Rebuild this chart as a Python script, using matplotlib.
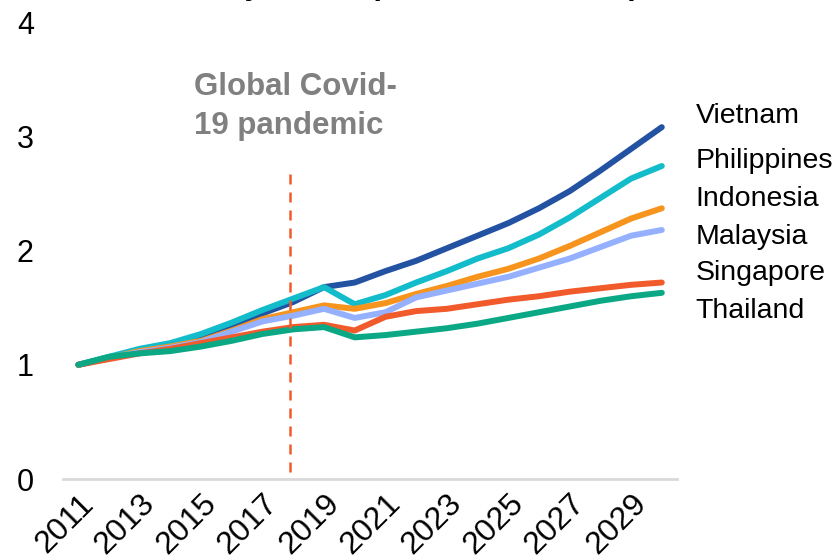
import matplotlib
matplotlib.use("Agg")
import matplotlib.pyplot as plt

plt.rcParams['font.family'] = ['Liberation Sans', 'DejaVu Sans']

years = list(range(2011, 2031))

vietnam = [1.00, 1.06, 1.12, 1.18, 1.25, 1.34, 1.45, 1.55, 1.68, 1.72,
           1.82, 1.91, 2.02, 2.13, 2.24, 2.37, 2.52, 2.70, 2.89, 3.08]
philippines = [1.00, 1.07, 1.14, 1.19, 1.27, 1.37, 1.48, 1.58, 1.68, 1.53,
               1.61, 1.72, 1.82, 1.93, 2.02, 2.14, 2.29, 2.46, 2.63, 2.74]
indonesia = [1.00, 1.06, 1.12, 1.16, 1.21, 1.30, 1.40, 1.46, 1.52, 1.49,
             1.54, 1.62, 1.69, 1.77, 1.84, 1.93, 2.04, 2.16, 2.28, 2.37]
malaysia = [1.00, 1.06, 1.11, 1.15, 1.20, 1.29, 1.38, 1.43, 1.49, 1.41,
            1.46, 1.59, 1.65, 1.71, 1.77, 1.85, 1.93, 2.03, 2.13, 2.18]
singapore = [1.00, 1.05, 1.10, 1.14, 1.19, 1.24, 1.29, 1.33, 1.35, 1.30,
             1.42, 1.47, 1.49, 1.53, 1.57, 1.60, 1.64, 1.67, 1.70, 1.72]
thailand = [1.00, 1.07, 1.10, 1.12, 1.16, 1.21, 1.27, 1.31, 1.33, 1.24,
            1.26, 1.29, 1.32, 1.36, 1.41, 1.46, 1.51, 1.56, 1.60, 1.63]

countries = ['Vietnam', 'Philippines', 'Indonesia', 'Malaysia', 'Singapore', 'Thailand']
series = [vietnam, philippines, indonesia, malaysia, singapore, thailand]
colors = ['#2352a2', '#12bccb', '#f7941d', '#95b0ff', '#f15a2b', '#0aa884']
label_y = [3.18, 2.78, 2.45, 2.12, 1.80, 1.47]

covid_year = 2018
tick_years = [str(y) for y in years[::2]]

fig = plt.figure(figsize=(8.39, 5.60), dpi=100)
ax = fig.add_axes([0.0751, 0.1446, 0.732, 0.816])

x = range(len(years))
for vals, c in zip(series, colors):
    ax.plot(x, vals, color=c, lw=4.3, solid_capstyle='round', solid_joinstyle='round')

# covid marker
cx = years.index(covid_year) - 0.1
ax.plot([cx, cx], [0.06, 2.72], color='#f15a2b', lw=1.8, ls=(0, (4, 3.2)))
ax.text(cx - 3.13, 3.56, 'Global Covid-\n19 pandemic', color='#808080',
        fontsize=22.5, fontweight='bold', ha='left', va='top', linespacing=1.37)

for name, yv in zip(countries, label_y):
    ax.text(1.03, yv, name, transform=ax.get_yaxis_transform(), fontsize=20.5,
            va='center', ha='left', clip_on=False)

ax.set_xlim(-0.5, len(years) - 0.5)
ax.set_ylim(0, 4)
ax.set_yticks([0, 1, 2, 3, 4])
ax.set_xticks(list(x)[::2])
ax.set_xticklabels(tick_years, rotation=45, ha='right', rotation_mode='anchor')
ax.tick_params(axis='both', length=0)
ax.tick_params(axis='y', pad=21, labelsize=22)
ax.tick_params(axis='x', pad=7, labelsize=23)

for s in ['top', 'right', 'left']:
    ax.spines[s].set_visible(False)
ax.spines['bottom'].set_color('#d9d9d9')
ax.spines['bottom'].set_linewidth(2)

# heading sits mostly above the canvas
fig.text(0.372, 1 + 6.0 / 560, 'Real GDP levels by nation (Index 2011 = 1.00)',
         fontsize=22, fontweight='bold', ha='center', va='baseline')

fig.savefig('out.png', dpi=100)
